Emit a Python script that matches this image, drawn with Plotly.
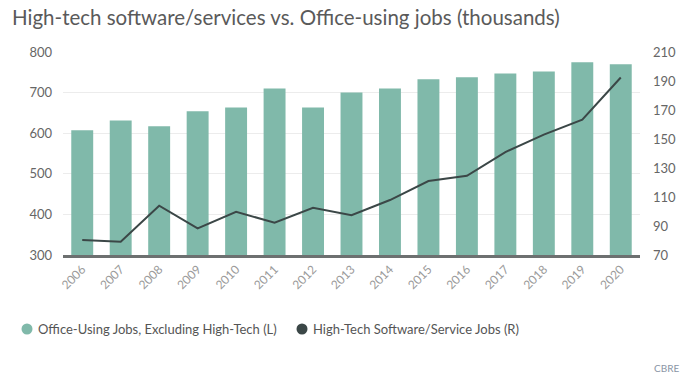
import plotly.graph_objects as go

years = ["2006", "2007", "2008", "2009", "2010", "2011", "2012", "2013",
         "2014", "2015", "2016", "2017", "2018", "2019", "2020"]
office_jobs = [607, 631, 617, 654, 663, 710, 663, 700, 710, 733, 738, 747, 752, 775, 770]
hightech_jobs = [80.3, 79.2, 104, 88.4, 99.8, 92.3, 102.6, 97.5, 107.9, 121, 124.6, 141, 153, 163.4, 192.4]

left_ticks = [300, 400, 500, 600, 700, 800]
right_ticks = [70, 90, 110, 130, 150, 170, 190, 210]

office_name = "Office-Using Jobs, Excluding High-Tech (L)"
tech_name = "High-Tech Software/Service Jobs (R)"

bar_color = "#80b9aa"
line_color = "#3b4747"
font_family = "Lato, 'Open Sans', sans-serif"

W, H = 688, 388
ML, MR, MT, MB = 63, 48, 52, 133
PW, PH = W - ML - MR, H - MT - MB


def px_x(x):
    return (x - ML) / PW


def px_y(y):
    return (H - MB - y) / PH


fig = go.Figure()
fig.add_trace(go.Bar(x=years, y=office_jobs, name=office_name,
                     marker=dict(color=bar_color, line=dict(width=0)),
                     showlegend=False, yaxis="y"))
fig.add_trace(go.Scatter(x=years, y=hightech_jobs, name=tech_name, mode="lines",
                         line=dict(color=line_color, width=2), showlegend=False, yaxis="y2"))

# custom legend (circle swatches + labels)
legend_y = 329
legend_items = [(27, bar_color, office_name), (302, line_color, tech_name)]
shapes = []
annotations = []
for cx, col, label in legend_items:
    shapes.append(dict(type="circle", xref="paper", yref="paper",
                       x0=px_x(cx - 5.5), x1=px_x(cx + 5.5),
                       y0=px_y(legend_y + 5.5), y1=px_y(legend_y - 5.5),
                       fillcolor=col, line=dict(width=0)))
    annotations.append(dict(text=label, xref="paper", yref="paper",
                            x=px_x(cx + 9), y=px_y(legend_y), xanchor="left", yanchor="middle",
                            showarrow=False, font=dict(size=13, color="#555")))
annotations.append(dict(text="CBRE", xref="paper", yref="paper", x=px_x(681), y=px_y(368),
                        xanchor="right", yanchor="middle", showarrow=False,
                        font=dict(size=10, color="#8a95a5")))

fig.update_layout(
    width=W, height=H,
    margin=dict(l=ML, r=MR, t=MT, b=MB),
    paper_bgcolor="white", plot_bgcolor="white",
    font=dict(family=font_family, color="#666"),
    bargap=0.43,
    showlegend=False,
    title=dict(text="High-tech software/services vs. Office-using jobs (thousands)",
               x=12 / W, xanchor="left", y=1 - 18 / H, yanchor="middle",
               font=dict(size=20.5, color="#5a5a5a", family=font_family)),
    xaxis=dict(type="category", tickangle=-45, tickfont=dict(size=12, color="#9a9a9a"),
               showgrid=False, showline=True, linecolor="#6d7070", linewidth=2.5,
               ticks="", zeroline=False, automargin=False),
    yaxis=dict(range=[300, 800], tickvals=left_ticks, showgrid=True, gridcolor="#ececec",
               tickfont=dict(size=13, color="#666"), zeroline=False, ticks="",
               ticklabelstandoff=10, automargin=False),
    yaxis2=dict(range=[70, 210], tickvals=right_ticks, overlaying="y", side="right",
                showgrid=False, tickfont=dict(size=13, color="#666"), zeroline=False,
                ticks="", ticklabelstandoff=12, automargin=False),
    shapes=shapes,
    annotations=annotations,
)

fig.write_html("out.html", config={"displayModeBar": False},
               post_script="document.body.style.margin='0';")
